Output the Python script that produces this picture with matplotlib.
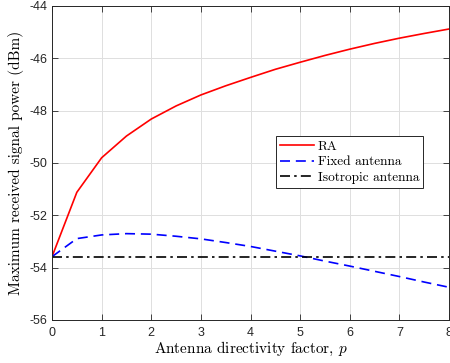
import matplotlib
matplotlib.use("Agg")
import matplotlib.pyplot as plt
import numpy as np

# directivity factor p and received power curves (dBm)
p = np.arange(0, 8.01, 0.5)
ra_power = [-53.58, -51.12, -49.80, -48.97, -48.32, -47.82, -47.40, -47.05, -46.73,
            -46.42, -46.15, -45.89, -45.65, -45.43, -45.23, -45.05, -44.88]
fixed_power = [-53.58, -52.89, -52.75, -52.70, -52.72, -52.80, -52.90, -53.04, -53.19,
               -53.37, -53.55, -53.75, -53.94, -54.14, -54.34, -54.55, -54.75]
iso_power = -53.58

xticks = list(range(0, 9))
yticks = [-56, -54, -52, -50, -48, -46, -44]

plt.rcParams["mathtext.fontset"] = "cm"
plt.rcParams["axes.unicode_minus"] = False
serif = {"family": "serif", "fontname": "cmr10"}

fig = plt.figure(figsize=(4.5, 3.63), dpi=100)
ax = fig.add_axes([0.1156, 0.1185, 0.8822, 0.865])

ax.plot(p, ra_power, "-", color="#ff0000", lw=1.2, label="RA")
ax.plot(p, fixed_power, "--", color="#0000ff", lw=1.2, dashes=(6, 3.5), label="Fixed antenna")
ax.axhline(iso_power, color="black", lw=1.2, ls="-.", dashes=(6, 2.5, 1.5, 2.5),
           label="Isotropic antenna")

ax.set_xlim(0, 8)
ax.set_ylim(-56, -44)
ax.set_xticks(xticks)
ax.set_yticks(yticks)
ax.set_xticklabels([str(v) for v in xticks], fontsize=9, family="Liberation Sans", color="#262626")
ax.set_yticklabels([str(v) for v in yticks], fontsize=9, family="Liberation Sans", color="#262626")
ax.tick_params(direction="in", top=True, right=True, length=4, width=0.6, color="#262626")
ax.tick_params(axis="x", pad=5)
ax.grid(True, color="#dfdfdf", lw=0.7)
ax.set_axisbelow(True)
for s in ax.spines.values():
    s.set_color("#262626")
    s.set_linewidth(0.7)

ax.set_xlabel("Antenna directivity factor, $p$", fontsize=11, labelpad=1, **serif)
ax.set_ylabel("Maximum received signal power (dBm)", fontsize=11, labelpad=4, **serif)

leg = ax.legend(loc="upper left", bbox_to_anchor=(0.564, 0.585), borderaxespad=0,
                fancybox=False, framealpha=1, edgecolor="#262626", handlelength=2.55,
                handletextpad=0.3, labelspacing=0.25, borderpad=0.3,
                prop={"family": "cmr10", "size": 9.6})
leg.get_frame().set_linewidth(0.7)

fig.savefig("out.png", dpi=100)
